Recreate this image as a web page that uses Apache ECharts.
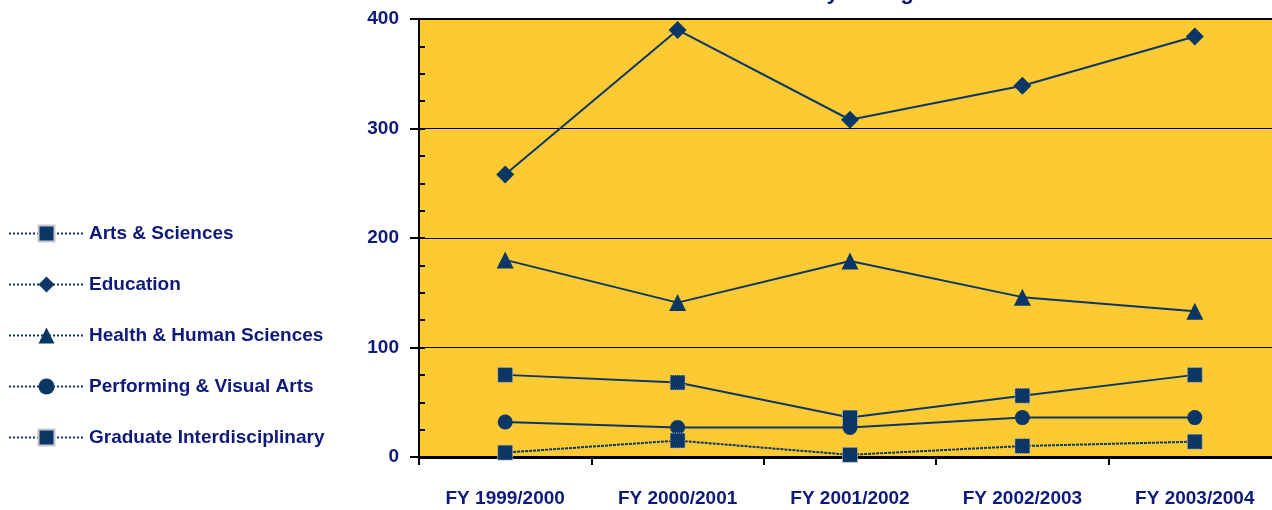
<!DOCTYPE html>
<html>
<head>
<meta charset="utf-8">
<script src="https://cdn.jsdelivr.net/npm/echarts@6/dist/echarts.min.js"></script>
<style>html,body{margin:0;padding:0;background:#fff;overflow:hidden;}#c{width:1290px;height:510px;}</style>
</head>
<body>
<div id="c"></div>
<script>
const categories = ['FY 1999/2000', 'FY 2000/2001', 'FY 2001/2002', 'FY 2002/2003', 'FY 2003/2004'];
const artsSciences = [75, 68, 36, 56, 75];
const education = [258, 390, 308, 339, 384];
const healthHuman = [180, 141, 179, 146, 133];
const performingArts = [32, 27, 27, 36, 36];
const gradInterdisc = [4, 15, 2, 10, 14];
const yTicks = [0, 100, 200, 300, 400];
const titleText = 'Graduate Enrollment by College';

const NAVY = '#0d1a7a';
const LINE = '#0b3766';
const FONT = '"Liberation Sans", Arial, sans-serif';

function mk(name, data, symbol, size, extra) {
  const s = {
    name: name, type: 'line', data: data, symbol: symbol, symbolSize: size,
    lineStyle: { color: LINE, width: 2 },
    itemStyle: { color: LINE, borderColor: LINE, borderWidth: 0 },
    emphasis: { disabled: true },
    animation: false
  };
  return Object.assign(s, extra || {});
}

const chart = echarts.init(document.getElementById('c'), null, { renderer: 'canvas' });
chart.setOption({
  backgroundColor: '#ffffff',
  animation: false,
  title: {
    text: titleText, left: 579, top: -24,
    textStyle: { color: NAVY, fontSize: 22.5, fontWeight: 'bold', fontFamily: FONT }
  },
  legend: {
    orient: 'vertical', left: 3, top: 219, itemWidth: 75, itemHeight: 20, itemGap: 32,
    textStyle: { color: NAVY, fontSize: 19, fontWeight: 'bold', fontFamily: FONT },
    lineStyle: { type: 'dotted', width: 2 },
    data: ['Arts & Sciences', 'Education', 'Health & Human Sciences', 'Performing & Visual Arts', 'Graduate Interdisciplinary']
  },
  grid: {
    left: 419, top: 19, width: 862, height: 438, show: true,
    backgroundColor: '#fdca33', borderColor: '#000', borderWidth: 2
  },
  xAxis: {
    type: 'category', data: categories, boundaryGap: true,
    axisLine: { lineStyle: { color: '#000', width: 3 } },
    axisTick: { show: true, length: 8, lineStyle: { color: '#000', width: 2 } },
    axisLabel: { color: NAVY, fontSize: 19, fontWeight: 'bold', fontFamily: FONT, margin: 32, interval: 0 }
  },
  yAxis: [{
    type: 'value', min: yTicks[0], max: yTicks[yTicks.length - 1], interval: 100,
    axisLine: { show: true, lineStyle: { color: '#000', width: 2 } },
    axisTick: { show: true, length: 9, lineStyle: { color: '#000', width: 2 } },
    axisLabel: { color: NAVY, fontSize: 19, fontWeight: 'bold', fontFamily: FONT, margin: 20 },
    splitLine: { show: true, lineStyle: { color: '#000', width: 1 } }
  }, {
    type: 'value', min: 0, max: 400, interval: 25, position: 'left',
    axisLine: { show: false },
    axisTick: { show: true, inside: true, length: 6, lineStyle: { color: '#000', width: 2 } },
    axisLabel: { show: false },
    splitLine: { show: false }
  }],
  series: [
    mk('Arts & Sciences', artsSciences, 'rect', 15, { itemStyle: { color: LINE, borderColor: '#c8c8c8', borderWidth: 1, borderType: 'dotted' } }),
    mk('Education', education, 'diamond', 18),
    mk('Health & Human Sciences', healthHuman, 'triangle', 17),
    mk('Performing & Visual Arts', performingArts, 'circle', 15),
    mk('Graduate Interdisciplinary', gradInterdisc, 'rect', 15, {
      lineStyle: { color: LINE, width: 2, type: [3, 1] },
      itemStyle: { color: LINE, borderColor: '#c8c8c8', borderWidth: 1, borderType: 'dotted' }
    })
  ]
});
</script>
</body>
</html>
